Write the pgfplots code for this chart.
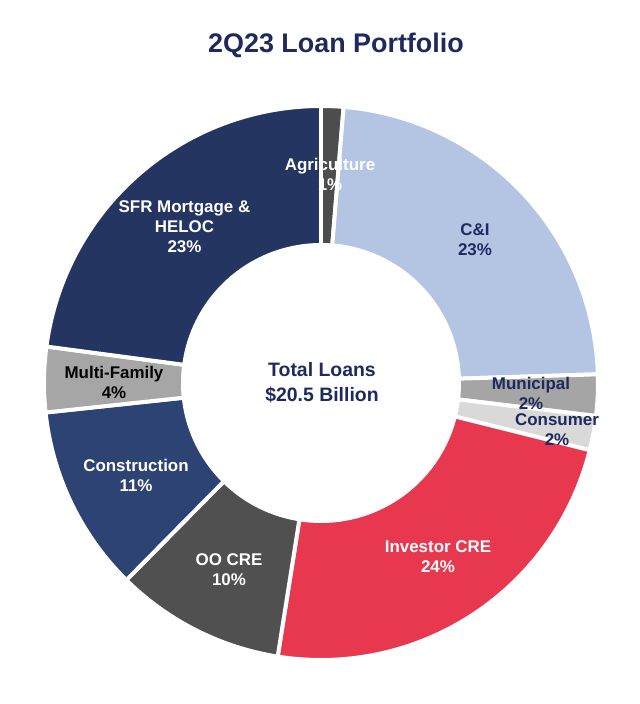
\documentclass[border=0pt]{standalone}
\usepackage{pgfplots}
\pgfplotsset{compat=1.18}
\usepackage{fontspec}
\setmainfont{Liberation Sans}
\definecolor{navytxt}{HTML}{1E2A5E}
\definecolor{sfr}{HTML}{253561}
\definecolor{agri}{HTML}{4D4D4D}
\definecolor{cni}{HTML}{B4C5E4}
\definecolor{muni}{HTML}{A5A5A5}
\definecolor{cons}{HTML}{D9D9D9}
\definecolor{inv}{HTML}{E8384F}
\definecolor{oocre}{HTML}{505050}
\definecolor{constr}{HTML}{2D4374}
\definecolor{mf}{HTML}{A6A6A6}
\tikzset{
  lbl/.style={align=center, font=\bfseries\fontsize{17}{20}\selectfont, inner sep=0pt},
  ctr/.style={align=center, font=\bfseries\fontsize{19.5}{25}\selectfont, inner sep=0pt},
  ttl/.style={align=center, font=\bfseries\fontsize{27}{32}\selectfont, inner sep=0pt}
}
% slice from cumulative share #1 to #2 (percent), clockwise from 12 o'clock
\newcommand{\slice}[3]{%
  \addplot[fill=#3, draw=white, line width=4pt, line join=round,
    domain={90-3.6*(#2)}:{90-3.6*(#1)}, samples=90]
    ({321+277*cos(x)},{321+277*sin(x)}) -- (axis cs:321,321) -- cycle;}
\begin{document}
\begin{tikzpicture}
\useasboundingbox (0,0) rectangle (640bp,704bp);
\begin{axis}[
  scale only axis, width=640bp, height=704bp,
  xmin=0, xmax=640, ymin=0, ymax=704,
  hide axis, clip=false
]
% shares (%): Agriculture 1.3, C&I 23.2, Municipal 2.4, Consumer 2.0,
% Investor CRE 23.6, OO CRE 9.9, Construction 10.9, Multi-Family 3.8, SFR 22.9
\slice{0}{1.3}{agri}
\slice{1.3}{24.5}{cni}
\slice{24.5}{26.9}{muni}
\slice{26.9}{28.9}{cons}
\slice{28.9}{52.5}{inv}
\slice{52.5}{62.4}{oocre}
\slice{62.4}{73.3}{constr}
\slice{73.3}{77.1}{mf}
\slice{77.1}{100}{sfr}
\addplot[fill=white, draw=none, domain=0:360, samples=181]
  ({321+140*cos(x)},{321+140*sin(x)}) -- cycle;

\node[ttl, text=navytxt] at (axis cs:336,659) {2Q23 Loan Portfolio};
\node[ctr, text=navytxt] at (axis cs:322,321.5) {Total Loans\\\$20.5 Billion};

\node[lbl, text=white] at (axis cs:330,530) {Agriculture\\1\%};
\node[lbl, text=navytxt] at (axis cs:475,464.5) {C\&I\\23\%};
\node[lbl, text=navytxt] at (axis cs:531,310.5) {Municipal\\2\%};
\node[lbl, text=navytxt] at (axis cs:557,274.5) {Consumer\\2\%};
\node[lbl, text=white] at (axis cs:438,147) {Investor CRE\\24\%};
\node[lbl, text=white] at (axis cs:229,134) {OO CRE\\10\%};
\node[lbl, text=white] at (axis cs:136,228.5) {Construction\\11\%};
\node[lbl, text=black] at (axis cs:114,321.5) {Multi-Family\\4\%};
\node[lbl, text=white] at (axis cs:184.5,477) {SFR Mortgage \&\\HELOC\\23\%};
\end{axis}
\end{tikzpicture}
\end{document}
